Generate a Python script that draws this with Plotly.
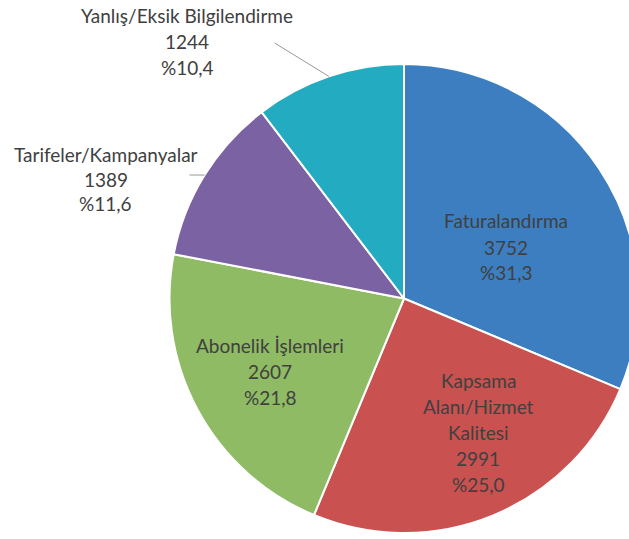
"""Şikayet konuları pasta grafiği."""

import math

import plotly.graph_objects as go

# data
labels = [
    "Faturalandırma",
    "Kapsama Alanı/Hizmet Kalitesi",
    "Abonelik İşlemleri",
    "Tarifeler/Kampanyalar",
    "Yanlış/Eksik Bilgilendirme",
]
values = [3752, 2991, 2607, 1389, 1244]
label_lines = [
    ["Faturalandırma"],
    ["Kapsama", "Alanı/Hizmet", "Kalitesi"],
    ["Abonelik İşlemleri"],
    ["Tarifeler/Kampanyalar"],
    ["Yanlış/Eksik Bilgilendirme"],
]

COLORS = ["#3d7ec0", "#c95150", "#8ebb63", "#7b62a3", "#23abc2"]
TEXT = "#404040"
FONT = "Lato"

W, H = 650, 539
CX, CY, R = 404, 298.5, 234.5          # pie centre / radius in px
# label block anchor (centre of first line), px
LABEL_POS = [(506, 221), (478, 380), (270, 345), (106, 154), (187, 15)]
LINE_STEP = [26, 26, 26, 25, 26]
LEADER = {3: (188, 175), 4: (273, 42)}  # outside labels -> leader tail px


def px(x, y):
    return x / W, 1 - y / H


total = sum(values)
pcts = [f"%{v / total * 100:.1f}".replace(".", ",") for v in values]

fig = go.Figure(go.Pie(
    labels=labels,
    values=values,
    sort=False,
    direction="clockwise",
    rotation=0,
    textinfo="none",
    hoverinfo="label+value+percent",
    marker=dict(colors=COLORS, line=dict(color="white", width=2)),
    domain=dict(x=[(CX - R) / W, (CX + R) / W], y=[1 - (CY + R) / H, 1 - (CY - R) / H]),
    showlegend=False,
))

annotations = []
cum = 0
for i, (lines, v, pct) in enumerate(zip(label_lines, values, pcts)):
    x0, y0 = LABEL_POS[i]
    for k, t in enumerate(lines + [str(v), pct]):
        x, y = px(x0, y0 + k * LINE_STEP[i])
        annotations.append(dict(
            x=x, y=y, xref="paper", yref="paper", text=t, showarrow=False,
            xanchor="center", yanchor="middle",
            font=dict(family=FONT, size=19, color=TEXT),
        ))
    mid = (cum + v / 2) / total * 2 * math.pi
    cum += v
    if i in LEADER:
        tx, ty = CX + R * math.sin(mid), CY - R * math.cos(mid)
        lx, ly = LEADER[i]
        x, y = px(tx, ty)
        annotations.append(dict(
            x=x, y=y, xref="paper", yref="paper", text="",
            showarrow=True, arrowhead=0, arrowwidth=1, arrowcolor="#999999",
            ax=lx - tx, ay=ly - ty, standoff=0, startstandoff=0,
        ))

fig.update_layout(
    width=W, height=H,
    margin=dict(l=0, r=0, t=0, b=0),
    paper_bgcolor="white", plot_bgcolor="white",
    annotations=annotations,
)

fig.write_html(
    "out.html",
    config={"displayModeBar": False},
    post_script="document.body.style.margin='0';document.body.style.overflow='hidden';",
)
